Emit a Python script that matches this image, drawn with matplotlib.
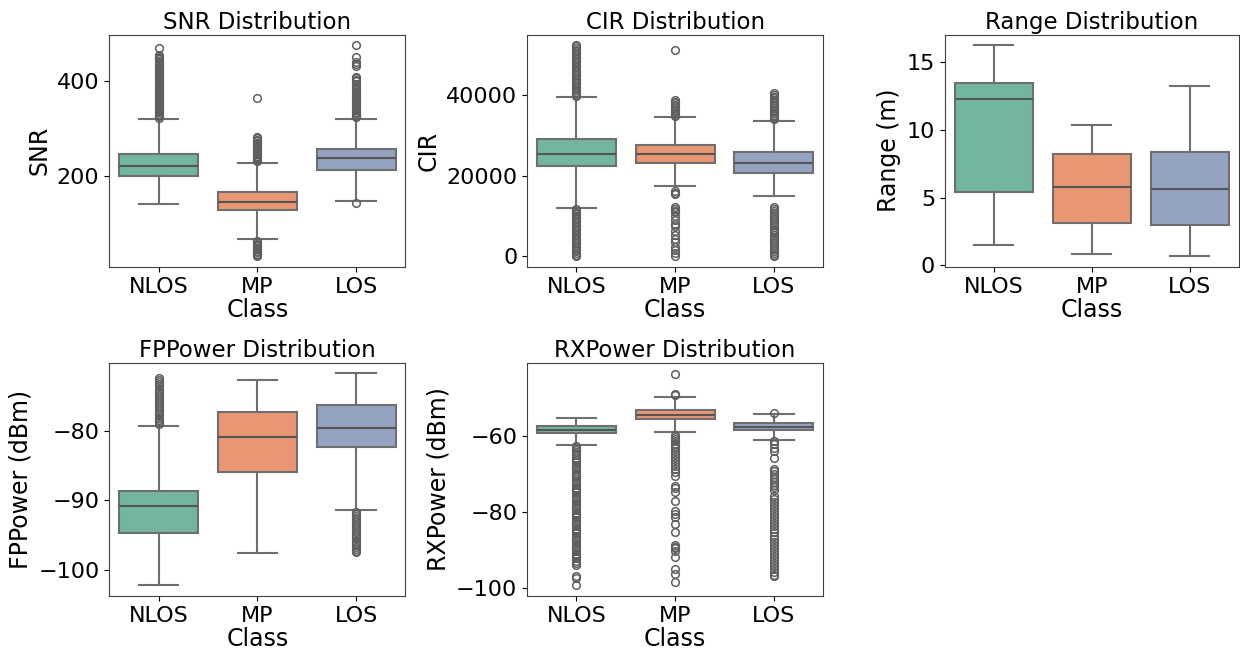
import colorsys
import matplotlib
matplotlib.use("Agg")
import matplotlib.pyplot as plt
import matplotlib.colors as mcolors

classes = ["NLOS", "MP", "LOS"]

# box statistics per class: whislo, q1, med, q3, whishi
snr_stats = [[142, 200, 222, 248, 321], [69, 129, 147, 168, 229], [149, 213, 238, 257, 321]]
snr_fliers = [
    [323, 326, 329, 332, 335, 338, 341, 344, 347, 350, 353, 356, 359, 362, 365, 368, 371, 374,
     377, 380, 383, 386, 389, 392, 395, 398, 401, 404, 407, 410, 413, 416, 419, 422, 425, 428,
     431, 434, 437, 440, 443, 446, 449, 452, 455, 469],
    [232, 235, 238, 241, 244, 247, 250, 253, 256, 259, 262, 265, 268, 271, 274, 277, 280, 283,
     364, 65, 62, 59, 56, 53, 50, 47, 44, 41, 38, 35, 32],
    [324, 327, 330, 333, 336, 339, 342, 345, 348, 351, 354, 357, 360, 363, 366, 369, 372, 375,
     378, 381, 384, 387, 390, 395, 400, 403, 406, 408, 433, 437, 440, 450, 476, 145],
]

cir_stats = [[12020, 22390, 25290, 29130, 39350], [17280, 23210, 25360, 27650, 34420],
             [14990, 20740, 23210, 25850, 33580]]
cir_fliers = [
    [39600, 40000, 40400, 40800, 41200, 41600, 42000, 42400, 42800, 43200, 43600, 44000, 44400,
     44800, 45200, 45600, 46000, 46400, 46800, 47200, 47600, 48000, 48400, 48800, 49200, 49600,
     50000, 50400, 50800, 51200, 51600, 52000, 52270,
     11600, 11200, 10800, 10400, 10000, 9600, 9200, 8800, 8400, 8000, 7600, 7200, 6800, 6400,
     6000, 5600, 5200, 4800, 4400, 4000, 3600, 3200, 2800, 2400, 2000, 1600, 1200, 800, 400, 0],
    [34700, 35100, 35500, 35900, 36300, 36700, 37100, 37500, 37900, 38300, 38700, 51040,
     16100, 15700, 15300, 12300, 11800, 11300, 10900, 10000, 9000, 8000, 7400, 6300, 5200, 4300,
     3500, 2300, 1500, 700, 0],
    [33900, 34300, 34700, 35100, 35500, 35900, 36300, 36700, 37100, 37500, 37900, 38300, 38700,
     39100, 39500, 39900, 40340,
     12300, 11800, 11300, 10800, 10300, 9800, 9300, 8800, 8300, 7800, 7300, 6600, 5900, 5200,
     4700, 4200, 3700, 3200, 2700, 2200, 1700, 1200, 700, 300, 0],
]

range_stats = [[1.51, 5.42, 12.3, 13.45, 16.27], [0.8, 3.15, 5.8, 8.25, 10.4], [0.65, 2.95, 5.65, 8.35, 13.25]]
range_fliers = [[], [], []]

fp_stats = [[-102.3, -94.7, -90.75, -88.56, -79.2], [-97.6, -85.9, -80.8, -77.2, -72.6],
            [-91.4, -82.2, -79.5, -76.2, -71.6]]
fp_fliers = [
    [-78.9, -78.6, -78.3, -78.0, -77.7, -77.4, -77.1, -76.8, -76.5, -76.2, -75.9, -75.6, -75.3,
     -75.0, -74.7, -74.4, -74.1, -73.8, -73.5, -73.2, -72.9, -72.6, -72.3],
    [],
    [-91.6, -91.9, -92.2, -92.5, -92.8, -93.1, -93.4, -93.7, -94.0, -94.3, -94.6, -94.9, -95.2,
     -95.5, -95.8, -96.1, -96.4, -96.7, -97.0, -97.3, -97.5],
]

rx_stats = [[-62.3, -59.3, -58.3, -57.35, -55.1], [-59.0, -55.6, -54.4, -53.2, -49.8],
            [-60.9, -58.5, -57.5, -56.6, -54.1]]
rx_fliers = [
    [-62.6, -63.1, -63.6, -64.1, -64.6, -65.1, -65.7, -66.3, -66.9, -67.5, -68.1, -68.7, -69.3,
     -70.0, -70.6, -71.2, -71.8, -72.4, -73.0, -73.6, -74.2, -74.8, -75.4, -76.0, -76.6, -77.2,
     -77.8, -78.4, -79.0, -79.6, -80.2, -80.8, -81.4, -82.0, -82.6, -83.2, -83.8, -84.4, -85.0,
     -85.6, -86.2, -86.8, -87.4, -88.0, -88.6, -89.2, -89.8, -90.4, -91.0, -91.6, -92.2, -92.8,
     -93.4, -94.0, -96.8, -97.4, -99.3],
    [-49.2, -48.9, -43.5, -59.6, -60.2, -60.8, -61.4, -62.0, -62.6, -63.2, -63.9, -64.6, -65.4,
     -66.2, -67.0, -67.8, -68.6, -69.5, -70.4, -73.1, -73.6, -74.7, -77.2, -79.7, -80.4, -81.2,
     -83.2, -85.2, -88.8, -89.3, -89.6, -90.2, -91.9, -95.1, -96.3, -98.4],
    [-53.8, -61.4, -62.2, -63.0, -63.8, -65.8, -68.6, -69.3, -70.0, -70.7, -71.4, -72.1, -72.8,
     -73.5, -74.2, -75.7, -76.5, -77.3, -78.1, -79.0, -79.8, -80.6, -81.4, -82.2, -83.0, -83.8,
     -84.6, -85.4, -86.2, -87.0, -87.8, -88.6, -89.4, -90.2, -91.0, -91.8, -92.6, -93.4, -94.2,
     -95.0, -95.8, -96.5, -96.9],
]

panels = [
    ("SNR Distribution", "SNR", snr_stats, snr_fliers, (10, 498), [200, 400]),
    ("CIR Distribution", "CIR", cir_stats, cir_fliers, (-2613, 54880), [0, 20000, 40000]),
    ("Range Distribution", "Range (m)", range_stats, range_fliers, (-0.13, 17.05), [0, 5, 10, 15]),
    ("FPPower Distribution", "FPPower (dBm)", fp_stats, fp_fliers, (-103.8, -70.1), [-100, -90, -80]),
    ("RXPower Distribution", "RXPower (dBm)", rx_stats, rx_fliers, (-102.1, -40.7), [-100, -80, -60]),
]

positions = [
    [0.088, 0.592, 0.239, 0.355],
    [0.425, 0.592, 0.239, 0.355],
    [0.762, 0.592, 0.237, 0.355],
    [0.088, 0.089, 0.239, 0.356],
    [0.425, 0.089, 0.239, 0.356],
]


def desat(c, s=0.75):
    r, g, b = mcolors.to_rgb(c)
    h, l, sat = colorsys.rgb_to_hls(r, g, b)
    return colorsys.hls_to_rgb(h, l, sat * s)


palette = [desat(c) for c in ["#66c2a5", "#fc8d62", "#8da0cb"]]
line_col = "#6f6f6f"

fig = plt.figure(figsize=(12.4, 6.54), dpi=100)

for (title, ylabel, stats, fliers, ylim, yticks), pos in zip(panels, positions):
    ax = fig.add_axes(pos)
    bstats = []
    for name, s, f in zip(classes, stats, fliers):
        bstats.append({"label": name, "whislo": s[0], "q1": s[1], "med": s[2],
                       "q3": s[3], "whishi": s[4], "fliers": f})
    bp = ax.bxp(bstats, positions=[0, 1, 2], widths=0.8, patch_artist=True,
                capwidths=0.4,
                boxprops=dict(edgecolor=line_col, linewidth=1.5),
                whiskerprops=dict(color=line_col, linewidth=1.5),
                capprops=dict(color=line_col, linewidth=1.5),
                medianprops=dict(color="#555555", linewidth=1.5),
                flierprops=dict(marker="o", markerfacecolor="none",
                                markeredgecolor="#5f5f5f", markersize=5.5,
                                markeredgewidth=1.1))
    for patch, col in zip(bp["boxes"], palette):
        patch.set_facecolor(col)
    ax.set_xlim(-0.5, 2.5)
    ax.set_ylim(*ylim)
    ax.set_yticks(yticks)
    ax.set_xticks([0, 1, 2])
    ax.set_xticklabels(classes)
    ax.tick_params(labelsize=16)
    ax.set_title(title, fontsize=16.5, pad=4)
    ax.set_xlabel("Class", fontsize=17, labelpad=1)
    ax.set_ylabel(ylabel, fontsize=17, labelpad=4)
    for sp in ax.spines.values():
        sp.set_color("0.25")

fig.savefig("out.png", dpi=100)
